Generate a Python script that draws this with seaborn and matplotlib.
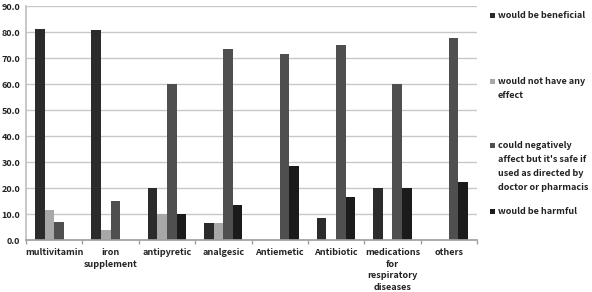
import matplotlib
matplotlib.use("Agg")
import matplotlib.pyplot as plt
import seaborn as sns
import pandas as pd
from matplotlib.patches import Rectangle
from matplotlib.ticker import FormatStrFormatter, FixedLocator

categories = ["multivitamin", "iron\nsupplement", "antipyretic", "analgesic",
              "Antiemetic", "Antibiotic", "medications\nfor\nrespiratory\ndiseases", "others"]
series_names = ["would be beneficial",
                "would not have any\neffect",
                "could negatively\naffect but it's safe if\nused as directed by\ndoctor or pharmacis",
                "would be harmful"]
beneficial = [81.0, 80.8, 20.0, 6.7, 0.0, 8.3, 20.0, 0.0]
no_effect = [11.7, 3.8, 10.0, 6.7, 0.0, 0.0, 0.0, 0.0]
negative = [6.9, 15.0, 60.0, 73.3, 71.4, 75.0, 60.0, 77.8]
harmful = [0.0, 0.0, 10.0, 13.3, 28.6, 16.7, 20.0, 22.2]
yticks = [0, 10, 20, 30, 40, 50, 60, 70, 80, 90]
colors = ["#2b2b2b", "#a8a8a8", "#4f4f4f", "#1b1b1b"]

rows = []
for s, vals in zip(series_names, [beneficial, no_effect, negative, harmful]):
    for c, v in zip(categories, vals):
        rows.append({"category": c, "series": s, "value": v})
df = pd.DataFrame(rows)

sns.set_theme(style="white")
plt.rcParams["font.family"] = ["Noto Sans CJK KR", "DejaVu Sans"]

W, H = 592, 292
fig = plt.figure(figsize=(W / 100, H / 100), dpi=100)
ax = fig.add_axes([26 / W, (H - 240) / H, (477 - 26) / W, (240 - 6) / H])

sns.barplot(data=df, x="category", y="value", hue="series", order=categories,
            hue_order=series_names, palette=colors, width=0.68, saturation=1,
            edgecolor="none", linewidth=0, legend=False, ax=ax)

ax.set_xlim(-0.5, len(categories) - 0.5)
ax.set_ylim(0, 90)
ax.set_yticks(yticks)
ax.yaxis.set_major_formatter(FormatStrFormatter("%.1f"))
ax.set_xlabel("")
ax.set_ylabel("")
ax.grid(axis="y", color="#c8c8c8", linewidth=1)
ax.set_axisbelow(True)
for side in ["top", "right"]:
    ax.spines[side].set_visible(False)
ax.spines["left"].set_color("#c0c0c0")
ax.spines["bottom"].set_color("#a0a0a0")
ax.tick_params(axis="y", length=0, pad=4, labelsize=6.5, labelcolor="#222222")
ax.tick_params(axis="x", which="major", length=0, pad=6, labelsize=6.5, labelcolor="#222222")
ax.xaxis.set_minor_locator(FixedLocator([i - 0.5 for i in range(len(categories) + 1)]))
ax.tick_params(axis="x", which="minor", length=3, color="#a0a0a0", bottom=True)
for lab in ax.get_xticklabels() + ax.get_yticklabels():
    lab.set_fontweight("bold")
for lab in ax.get_xticklabels():
    lab.set_linespacing(1.36)
    lab.set_verticalalignment("top")

# legend
leg_tops = [15, 81, 145, 211]
for name, col, y in zip(series_names, colors, leg_tops):
    fig.patches.append(Rectangle((489.5 / W, (H - y - 2.5) / H), 5 / W, 5 / H,
                                 transform=fig.transFigure, facecolor=col, edgecolor="none"))
    fig.text(497.5 / W, (H - y + 3.5) / H, name, fontsize=6.5, fontweight="bold", color="#222222",
             va="top", ha="left", linespacing=1.68)

fig.savefig("out.png", dpi=100)
